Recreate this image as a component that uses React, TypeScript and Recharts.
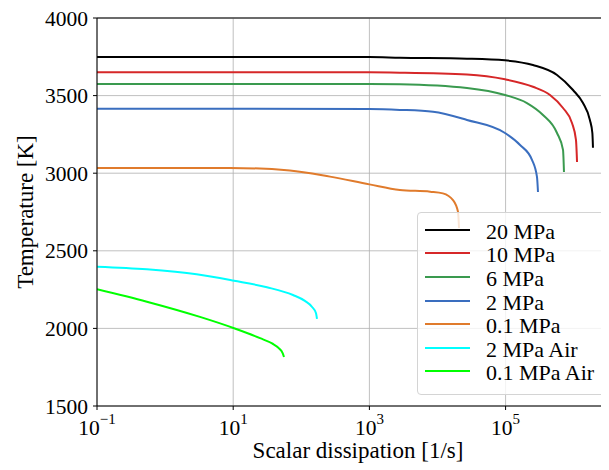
import { CartesianGrid, Legend, Line, LineChart, ReferenceLine, XAxis, YAxis } from "recharts";

const FONT = "'Liberation Serif', serif";

const seriesNames = ["20 MPa", "10 MPa", "6 MPa", "2 MPa", "0.1 MPa", "2 MPa Air", "0.1 MPa Air"];
const seriesColors = ["#000000", "#d62728", "#3a9a4f", "#3a6ebf", "#e07b2c", "#00ffff", "#00ff00"];

// scalar dissipation [1/s] and temperature [K] per series
const chi20 = [0.1, 10, 1000, 2800, 27100, 98000, 252000, 569000, 977000, 1.37e6, 1.73e6, 1.88e6, 1.92e6];
const temp20 = [3749, 3749, 3748, 3744, 3738, 3727, 3697, 3633, 3536, 3452, 3343, 3259, 3164];

const chi10 = [0.1, 10, 1000, 2800, 27100, 98000, 252000, 449000, 697000, 944000, 1.08e6, 1.12e6];
const temp10 = [3650, 3650, 3650, 3648, 3636, 3605, 3557, 3504, 3420, 3323, 3214, 3072];

const chi6 = [0.1, 10, 1000, 2800, 27100, 98000, 206000, 354000, 569000, 697000, 720000];
const temp6 = [3575, 3575, 3575, 3573, 3549, 3504, 3452, 3375, 3259, 3150, 3008];

const chi2 = [0.1, 10, 1000, 2800, 8600, 27100, 98000, 163000, 245000, 289000, 299000];
const temp2 = [3415, 3415, 3413, 3408, 3396, 3343, 3259, 3182, 3085, 2976, 2879];

const chi01 = [0.1, 9, 68, 264, 1000, 2800, 7800, 12000, 16900, 20000, 20700];
const temp01 = [3034, 3034, 3018, 2978, 2928, 2892, 2881, 2870, 2827, 2752, 2647];

const chi2Air = [0.1, 0.54, 2.9, 10.3, 31.3, 75.5, 113, 144, 164, 170];
const temp2Air = [2398, 2381, 2349, 2307, 2265, 2215, 2177, 2138, 2099, 2061];

const chi01Air = [0.1, 0.54, 3.25, 10.3, 24.8, 37.2, 47.1, 53, 55.7];
const temp01Air = [2252, 2172, 2074, 2001, 1937, 1903, 1871, 1842, 1816];

const xTicks = [0.1, 10, 1000, 100000];
const xTickExponents = ["\u22121", "1", "3", "5"];
const yTicks = [1500, 2000, 2500, 3000, 3500, 4000];

const zip = (chi: number[], temp: number[]) => chi.map((c, i) => ({ chi: c, temp: temp[i] }));

const series = [
  zip(chi20, temp20),
  zip(chi10, temp10),
  zip(chi6, temp6),
  zip(chi2, temp2),
  zip(chi01, temp01),
  zip(chi2Air, temp2Air),
  zip(chi01Air, temp01Air),
];

type TickProps = { x?: number; y?: number; payload?: { value: number } };

const XTick = ({ x, y, payload }: TickProps) => {
  const i = xTicks.indexOf(payload?.value ?? 0);
  return (
    <text x={x} y={(y ?? 0) + 23} textAnchor="middle" fontFamily={FONT} fontSize={21.5} fill="#000">
      <tspan>10</tspan>
      <tspan dy={-11} fontSize={15}>{xTickExponents[i]}</tspan>
    </text>
  );
};

const YTick = ({ x, y, payload }: TickProps) => (
  <text x={x} y={(y ?? 0) + 7.5} textAnchor="end" fontFamily={FONT} fontSize={21.5} fill="#000">
    {payload?.value}
  </text>
);

const LegendBox = () => (
  <div
    style={{
      border: "1px solid #d4d4d4",
      borderRadius: 4,
      background: "rgba(255,255,255,0.8)",
      padding: "5px 6px 11px 7px",
      fontFamily: FONT,
      fontSize: 22,
      color: "#000",
    }}
  >
    {seriesNames.map((name, i) => (
      <div key={name} style={{ display: "flex", alignItems: "center", height: 23.6 }}>
        <span style={{ width: 45, height: 2, background: seriesColors[i], marginRight: 16, flexShrink: 0 }} />
        <span style={{ lineHeight: 1, position: "relative", top: 2, whiteSpace: "nowrap" }}>{name}</span>
      </div>
    ))}
  </div>
);

export default function App() {
  return (
    <div style={{ width: 601, height: 462, overflow: "hidden", fontFamily: FONT }}>
      <LineChart width={601} height={462} margin={{ top: 10, right: 0, bottom: 0, left: 0 }}>
        <CartesianGrid stroke="#b0b0b0" strokeWidth={0.8} />
        <XAxis
          dataKey="chi"
          type="number"
          scale="log"
          domain={[0.1, 3.3e6]}
          allowDataOverflow
          ticks={xTicks}
          interval={0}
          height={64}
          tickSize={4}
          tick={<XTick />}
          axisLine={{ stroke: "#000", strokeWidth: 1 }}
          tickLine={{ stroke: "#000" }}
        />
        <YAxis
          dataKey="temp"
          type="number"
          domain={[1500, 4000]}
          ticks={yTicks}
          interval={0}
          width={89}
          tickSize={4}
          tickMargin={5}
          tick={<YTick />}
          axisLine={{ stroke: "#000", strokeWidth: 1 }}
          tickLine={{ stroke: "#000" }}
        />
        <ReferenceLine y={4000} stroke="#444" strokeWidth={1.3} />
        {series.map((data, i) => (
          <Line
            key={seriesNames[i]}
            data={data}
            dataKey="temp"
            name={seriesNames[i]}
            type="monotone"
            stroke={seriesColors[i]}
            strokeWidth={2}
            dot={false}
            isAnimationActive={false}
          />
        ))}
        <Legend
          layout="vertical"
          align="center"
          verticalAlign="middle"
          content={<LegendBox />}
          wrapperStyle={{ left: 409, top: 204, width: 191, height: "auto" }}
        />
        <text x={25} y={204} transform="rotate(-90 25 204)" textAnchor="middle" fontFamily={FONT} fontSize={23} fill="#000">
          Temperature [K]
        </text>
        <text x={350} y={450} textAnchor="middle" fontFamily={FONT} fontSize={23} fill="#000">
          Scalar dissipation [1/s]
        </text>
      </LineChart>
    </div>
  );
}
